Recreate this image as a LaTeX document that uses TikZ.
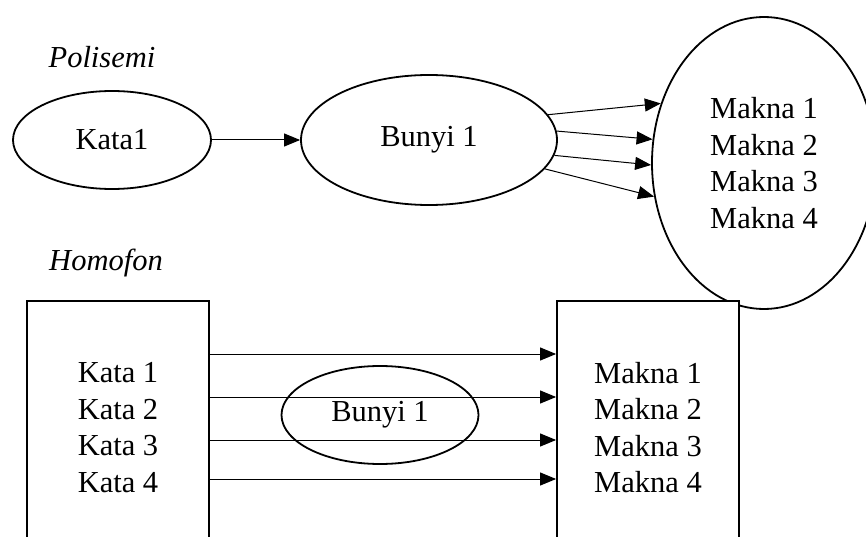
\documentclass[tikz,border=0pt]{standalone}
\usepackage{fontspec}
\setmainfont{Liberation Serif}
\usetikzlibrary{shapes.geometric,arrows.meta}
\tikzset{
  oval/.style={ellipse, draw, line width=1.8pt, inner sep=0pt, align=center},
  box/.style={rectangle, draw, line width=1.8pt, fill=white, minimum width=182pt, minimum height=253pt, align=center},
  link/.style={-{Triangle[length=16pt,width=13pt]}, line width=1pt}
}
\begin{document}
\begin{tikzpicture}[x=1pt, y=-1pt, font=\fontsize{30.5}{36.5}\selectfont]
    \clip (0,0) rectangle (866,537);
    % Polisemi
    \node (polisemi) at (102,57) {\textit{Polisemi}};
    \node[oval, minimum width=198pt, minimum height=98pt] (kata) at (112,140) {Kata1};
    \node[oval, minimum width=256pt, minimum height=130pt] (bunyi) at (429,140) {Bunyi 1};
    \node[oval, minimum width=224pt, minimum height=292pt] (makna) at (764,163) {Makna 1\\Makna 2\\Makna 3\\Makna 4};
    \draw[link] (kata.east) -- (bunyi.west);
    \draw[link] (bunyi.12) -- (makna.150);
    \draw[link] (bunyi.4) -- (makna.168);
    \draw[link] (bunyi.-7) -- (makna.181);
    \draw[link] (bunyi.-14) -- (makna.197);
    % Homofon
    \node (homofon) at (106,263) {\textit{Homofon}};
    \node[box] (katabox) at (118,427.5) {Kata 1\\Kata 2\\Kata 3\\Kata 4};
    \node[box] (maknabox) at (648,427.5) {Makna 1\\Makna 2\\Makna 3\\Makna 4};
    \node[oval, minimum width=197pt, minimum height=98pt] (bunyidua) at (380,415) {Bunyi 1};
    \draw[link] ([yshift=73.5pt]katabox.east) -- ([yshift=73.5pt]maknabox.west);
    \draw[link] ([yshift=30.5pt]katabox.east) -- ([yshift=30.5pt]maknabox.west);
    \draw[link] ([yshift=-12.5pt]katabox.east) -- ([yshift=-12.5pt]maknabox.west);
    \draw[link] ([yshift=-51.5pt]katabox.east) -- ([yshift=-51.5pt]maknabox.west);
\end{tikzpicture}
\end{document}
